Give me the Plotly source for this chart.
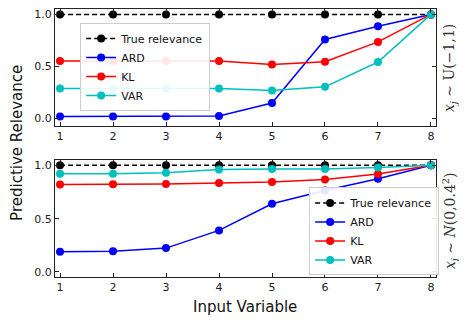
import plotly.graph_objects as go
from plotly.subplots import make_subplots

x_vals = [1, 2, 3, 4, 5, 6, 7, 8]

# Top panel: x_j ~ U(-1,1)
top_true = [1, 1, 1, 1, 1, 1, 1, 1]
top_ard = [0.02, 0.02, 0.02, 0.025, 0.15, 0.76, 0.887, 1.0]
top_kl = [0.553, 0.553, 0.553, 0.553, 0.52, 0.546, 0.736, 1.0]
top_var = [0.29, 0.29, 0.29, 0.29, 0.27, 0.305, 0.543, 1.0]

# Bottom panel: x_j ~ N(0, 0.4^2)
bot_true = [1, 1, 1, 1, 1, 1, 1, 1]
bot_ard = [0.189, 0.195, 0.224, 0.39, 0.64, 0.764, 0.875, 1.0]
bot_kl = [0.82, 0.822, 0.825, 0.834, 0.843, 0.868, 0.919, 1.0]
bot_var = [0.92, 0.92, 0.93, 0.96, 0.966, 0.966, 0.98, 1.0]

series_names = ["True relevance", "ARD", "KL", "VAR"]
colors = ["black", "#0000ff", "#ff0000", "#00bfbf"]
dashes = ["5px,3px", "solid", "solid", "solid"]

fig = make_subplots(rows=2, cols=1, vertical_spacing=0.1268)

FONT = "DejaVu Sans"

for row, data, leg in [(1, [top_true, top_ard, top_kl, top_var], "legend"),
                       (2, [bot_true, bot_ard, bot_kl, bot_var], "legend2")]:
    for name, ys, c, d in zip(series_names, data, colors, dashes):
        fig.add_trace(go.Scatter(
            x=x_vals, y=ys, name=name, mode="lines+markers",
            line=dict(color=c, width=1.5, dash=d),
            marker=dict(color=c, size=8),
            legend=leg, showlegend=True,
        ), row=row, col=1)

axis_common = dict(showline=True, linecolor="#222222", linewidth=1.2, mirror="ticks",
                   ticks="inside", ticklen=4, tickcolor="#222222", showgrid=False,
                   zeroline=False, tickfont=dict(family=FONT, size=11, color="#222222"))

for r in (1, 2):
    fig.update_xaxes(range=[0.905, 8.095], tickvals=x_vals, row=r, col=1, **axis_common)
fig.update_yaxes(range=[-0.071, 1.052], tickvals=[0, 0.5, 1.0], ticktext=["0.0", "0.5", "1.0"],
                 row=1, col=1, **axis_common)
fig.update_yaxes(range=[-0.047, 1.05], tickvals=[0, 0.5, 1.0], ticktext=["0.0", "0.5", "1.0"],
                 row=2, col=1, **axis_common)

legend_common = dict(bgcolor="rgba(255,255,255,0.9)", bordercolor="#cccccc", borderwidth=1,
                     font=dict(size=11, family=FONT, color="#111111"), tracegroupgap=0, itemwidth=30)

fig.update_layout(
    width=459, height=314,
    margin=dict(l=47, r=31, t=1, b=45),
    plot_bgcolor="white", paper_bgcolor="white",
    font=dict(family=FONT, color="#222222"),
    legend=dict(x=0.066, y=0.784, xanchor="left", yanchor="middle", **legend_common),
    legend2=dict(x=0.667, y=0.006, xanchor="left", yanchor="bottom", **legend_common),
)

fig.add_annotation(text="Predictive Relevance", xref="paper", yref="paper",
                   x=-0.1, y=0.5, textangle=-90, showarrow=False, borderpad=0,
                   font=dict(size=15, family=FONT, color="#111111"), xanchor="center", yanchor="middle")
fig.add_annotation(text="Input Variable", xref="paper", yref="paper",
                   x=0.499, y=-0.113, showarrow=False,
                   font=dict(size=15, family=FONT, color="#111111"), xanchor="center", yanchor="middle")
fig.add_annotation(text="<i>x<sub>j</sub></i> ∼ U(−1,1)", xref="paper", yref="paper",
                   x=1.037, y=0.78, textangle=-90, showarrow=False,
                   font=dict(size=14, family="DejaVu Serif", color="#333333"),
                   xanchor="center", yanchor="middle")
fig.add_annotation(text="<i>x<sub>j</sub></i> ∼ <i>N</i>(0,0.4<sup>2</sup>)", xref="paper", yref="paper",
                   x=1.037, y=0.209, textangle=-90, showarrow=False,
                   font=dict(size=14, family="DejaVu Serif", color="#333333"),
                   xanchor="center", yanchor="middle")

fig.write_html("out.html")
